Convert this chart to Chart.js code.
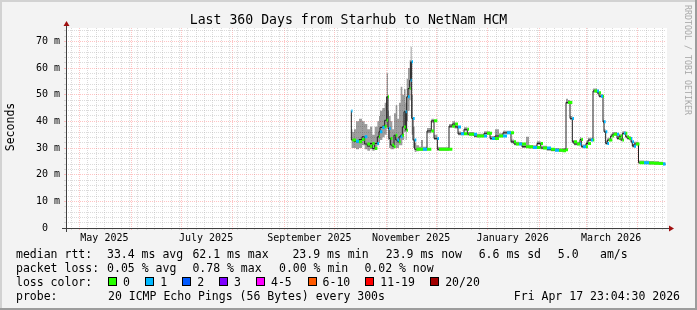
<!DOCTYPE html>
<html>
<head>
<meta charset="utf-8">
<title>Last 360 Days from Starhub to NetNam HCM</title>
<script src="https://cdn.jsdelivr.net/npm/chart.js@4.4.1/dist/chart.umd.min.js"></script>
<style>
    body { margin: 0; background: #f3f3f3; }
    #graph { position: relative; width: 697px; height: 310px; overflow: hidden; font-family: 'DejaVu Sans Mono', monospace; color: #000; }
    #graph canvas { position: absolute; left: 0; top: 0; }
    .lbl { position: absolute; font-size: 11.5px; line-height: 14px; white-space: pre; }
    #title { position: absolute; left: 0; width: 697px; top: 11.5px; text-align: center; font-size: 13.2px; line-height: 16px; white-space: pre; }
    #ytitle { position: absolute; left: -40px; top: 119.5px; width: 100px; text-align: center; font-size: 11.5px; line-height: 14px; transform: rotate(-90deg); }
    #stamp { position: absolute; left: 623px; top: 55px; width: 130px; line-height: 10px; text-align: center; font-size: 8.3px; color: #a8a8a8; transform: rotate(90deg); white-space: pre; }
    .sw { position: absolute; width: 9px; height: 9px; box-sizing: border-box; border: 1px solid #000; top: 277px; }
</style>
</head>
<body>
<div id="graph">
    <canvas id="mainChart" width="697" height="310"></canvas>
    <div id="title">Last 360 Days from Starhub to NetNam HCM</div>
    <div id="ytitle">Seconds</div>
    <div id="stamp">RRDTOOL / TOBI OETIKER</div>

    <div class="lbl" style="left:16px;top:247px">median rtt:</div>
    <div class="lbl" style="left:107px;top:247px">33.4 ms avg</div>
    <div class="lbl" style="left:192.4px;top:247px">62.1 ms max</div>
    <div class="lbl" style="left:292.4px;top:247px">23.9 ms min</div>
    <div class="lbl" style="left:385.8px;top:247px">23.9 ms now</div>
    <div class="lbl" style="left:478.7px;top:247px">6.6 ms sd</div>
    <div class="lbl" style="left:557.8px;top:247px">5.0</div>
    <div class="lbl" style="left:600px;top:247px">am/s</div>

    <div class="lbl" style="left:16px;top:260.5px">packet loss:</div>
    <div class="lbl" style="left:107.1px;top:260.5px">0.05 % avg</div>
    <div class="lbl" style="left:192.4px;top:260.5px">0.78 % max</div>
    <div class="lbl" style="left:279px;top:260.5px">0.00 % min</div>
    <div class="lbl" style="left:364.4px;top:260.5px">0.02 % now</div>

    <div class="lbl" style="left:16px;top:274.5px">loss color:</div>
    <div id="lossLegend"></div>

    <div class="lbl" style="left:16px;top:288.5px">probe:</div>
    <div class="lbl" style="left:108px;top:288.5px">20 ICMP Echo Pings (56 Bytes) every 300s</div>
    <div class="lbl" style="right:17px;top:288.5px">Fri Apr 17 23:04:30 2026</div>
</div>
<script>
// ventana de 360 dias que termina el Fri Apr 17 23:04:30 2026
const WINDOW_START = Date.UTC(2025, 3, 22, 23, 4, 30);
const WINDOW_DAYS = 360;
const dayOf = (y, m, d) => (Date.UTC(y, m, d) - WINDOW_START) / 864e5;

// muestras: dias desde el inicio de la ventana
const days = [
    171.2, 171.9, 172.8, 174.0, 175.8, 177.6, 179.2, 180.8, 182.4, 183.8,
    185.2, 186.8, 187.8, 188.4, 189.8, 191.2, 192.4, 193.2, 193.8, 194.8,
    195.8, 196.8, 197.8, 198.8, 199.8, 200.8, 201.8, 202.8, 203.8, 204.4,
    205.2, 206.2, 206.8, 207.4, 208.2, 209.2, 210.2, 211.8,
    213.0, 214.2, 216.6, 219.2, 220.8, 222.8, 223.8, 226.8, 229.8, 231.8,
    233.4, 235.2, 237.0, 238.8, 240.8, 241.8, 244.8, 246.6, 249.0, 250.8,
    252.6, 254.4, 255.6, 257.4, 259.8, 262.2, 264.6, 267.0, 268.8, 270.0,
    271.8, 273.6, 276.0, 277.8, 280.2, 282.6, 284.8, 286.2, 288.6, 291.0,
    293.4, 295.8, 298.2, 300.0, 301.2, 302.4, 303.8, 304.8, 306.6, 308.4,
    309.2, 310.2, 312.0, 313.2, 315.0, 316.2, 317.0, 318.6, 319.8, 321.0,
    322.2, 322.8, 323.8, 324.8, 325.8, 326.8, 327.8, 328.8, 330.6, 331.8,
    332.8, 333.8, 334.8, 335.8, 336.8, 337.8, 339.0, 339.8, 340.8, 342.0,
    343.5, 344.1, 346.8, 349.8, 352.8, 355.8, 358.2, 359.7
];
// median rtt (ms)
const medianRtt = [
    43.9, 33, 33, 32.5, 32.3, 33.2, 34.2, 31.5, 30.7, 31.7,
    29.8, 31.7, 34.2, 36.1, 37.7, 38.2, 40.4, 49.2, 37.3, 33.6,
    31.1, 30.5, 34.8, 33, 32.3, 34.2, 34.8, 37.9, 43.6, 36.7,
    49.2, 52.3, 55.4, 62.3, 41.1, 33, 29.5, 29.5,
    29.5, 29.5, 29.5, 36.4, 40.2, 33.6, 29.5, 29.5, 29.5, 38.2,
    39, 37.9, 35.3, 35.3, 37, 35.2, 35.2, 34.5, 34.5, 34.5,
    35.5, 35.5, 33.6, 33.6, 34.5, 34.5, 35.7, 35.7, 32.3, 31.5,
    31.5, 31.5, 30.5, 30.5, 30.2, 30.2, 31.7, 30, 30, 29.5,
    29.2, 29.2, 29, 29.3, 47.1, 47.1, 41.1, 32.3, 31.5, 31.5,
    33.2, 30.5, 30.5, 31.7, 33, 33, 51.4, 51.4, 50.7, 49.4,
    49.4, 39.8, 36.1, 31.7, 33, 33, 34.5, 35.2, 35.2, 33.6,
    34.5, 33, 35.5, 35.5, 34.2, 33.6, 33.6, 32.3, 30.7, 31.5,
    31.5, 24.5, 24.5, 24.4, 24.3, 24.2, 24, 23.9
];
// humo: ping mas alto / mas bajo (ms)
const smokeHigh = [
    50, 37, 36, 37, 40, 41, 40, 39, 37, 38,
    35, 38, 40, 42, 44, 45, 47, 58, 44, 42,
    40, 37, 43, 46, 41, 47, 53, 50, 52, 47,
    56, 60, 63, 68, 50, 38, 32, 31,
    30.5, 33, 30.5, 37.5, 41, 35, 30.5, 30.3, 30.3, 39,
    40, 38.8, 36.2, 36, 37.8, 36, 36, 35.3, 35.3, 35.3,
    36.3, 36.3, 34.5, 34.5, 37, 35.5, 36.5, 36.5, 33.2, 32.3,
    32.3, 32.2, 31.2, 34.2, 31, 31, 32.5, 30.8, 30.8, 30.3,
    30, 30, 29.8, 30, 48.5, 48, 42, 33, 32.3, 32.3,
    34, 31.3, 31.3, 32.5, 33.8, 33.8, 52.3, 52.3, 51.5, 50.2,
    50.2, 40.6, 37, 32.6, 33.8, 33.8, 35.3, 36, 36, 34.4,
    35.3, 33.8, 36.3, 36.3, 35, 34.4, 34.4, 33.1, 31.5, 32.3,
    32.3, 25.3, 25.3, 25.2, 25.1, 25, 24.8, 24.7
];
const smokeLow = [
    33, 30, 30, 30, 29.5, 30, 31, 29.5, 29, 29.5,
    29, 29.5, 31, 32, 33, 34, 35, 38, 33, 30,
    29.5, 29.5, 31, 30, 30, 31, 31, 33, 36, 33,
    40, 44, 48, 52, 35, 30, 28.5, 28.8,
    29, 29, 29, 35.5, 39.5, 33, 29, 29, 29, 37.5,
    38.5, 37.3, 34.8, 34.8, 36.3, 34.7, 34.7, 34, 34, 34,
    35, 35, 33, 33, 34, 34, 35.2, 35.2, 31.8, 31,
    31, 31, 30, 30, 29.8, 29.8, 31.2, 29.5, 29.5, 29,
    28.8, 28.8, 28.6, 28.8, 46.5, 46.5, 40.5, 31.8, 31, 31,
    32.8, 30, 30, 31.2, 32.5, 32.5, 50.8, 50.8, 50.2, 48.9,
    48.9, 39.3, 35.6, 31.2, 32.5, 32.5, 34, 34.7, 34.7, 33.1,
    34, 32.5, 35, 35, 33.7, 33.1, 33.1, 31.8, 30.2, 31,
    31, 24, 24, 23.9, 23.8, 23.7, 23.6, 23.5
];
// nivel de perdida (indice en lossColors)
const lossLevel = [
    1, 0, 0, 1, 0, 0, 1, 0, 0, 0,
    0, 1, 0, 1, 1, 0, 0, 0, 1, 0,
    0, 0, 0, 1, 0, 1, 0, 0, 1, 0,
    1, 0, 1, 1, 1, 1, 0, 0,
    0, 1, 0, 0, 0, 1, 0, 0, 0, 0,
    0, 1, 1, 0, 0, 0, 1, 0, 0, 1,
    0, 0, 1, 0, 0, 1, 1, 0, 0, 0,
    1, 0, 0, 0, 1, 0, 0, 0, 1, 0,
    1, 0, 0, 0, 0, 0, 1, 0, 0, 1,
    0, 1, 0, 0, 1, 0, 0, 1, 0, 1,
    0, 1, 1, 1, 0, 0, 0, 0, 1, 0,
    0, 0, 1, 0, 0, 0, 1, 1, 1, 0,
    0, 0, 1, 0, 0, 0, 1, 1
];

const lossLabels = ['0', '1', '2', '3', '4-5', '6-10', '11-19', '20/20'];
const lossColors = ['#26ff00', '#00b8ff', '#0059ff', '#7e00ff', '#ff00ff', '#ff5a00', '#ff0000', '#a10000'];
const lossLegendX = [108, 145.3, 182.2, 219, 256, 307.6, 365.3, 430.2];

const yTickValues = [0, 10, 20, 30, 40, 50, 60, 70];
const yTickLabels = ['0  ', '10 m', '20 m', '30 m', '40 m', '50 m', '60 m', '70 m'];
const xLabelMonths = [[2025, 4], [2025, 6], [2025, 8], [2025, 10], [2026, 0], [2026, 2]];
const xLabelText = ['May 2025', 'July 2025', 'September 2025', 'November 2025', 'January 2026', 'March 2026'];

const GRID_MINOR = 'rgba(175,175,175,0.45)';
const GRID_MAJOR = 'rgba(255,70,70,0.32)';
const NONE = 'rgba(0,0,0,0)';

// leyenda de colores de perdida
document.getElementById('lossLegend').innerHTML = lossLabels.map((l, i) =>
    `<div class="sw" style="left:${lossLegendX[i]}px;background:${lossColors[i]}"></div>` +
    `<div class="lbl" style="left:${lossLegendX[i] + 15}px;top:274.5px">${l}</div>`).join('');

// --- ticks del eje X: rejilla menor cada 5 dias, mayor cada mes, etiqueta a mitad de mes ---
const monthStarts = [];
for (let i = 0; i < 12; i++) {
    monthStarts.push(dayOf(2025 + Math.floor((4 + i) / 12), (4 + i) % 12, 1));
}
const xTicks = [];
for (let d = monthStarts[0] - 5 * Math.floor(monthStarts[0] / 5); d <= WINDOW_DAYS; d += 5) {
    if (!monthStarts.some(m => Math.abs(m - d) < 0.01)) xTicks.push({ value: d, kind: 'minor' });
}
monthStarts.forEach(d => xTicks.push({ value: d, kind: 'major' }));
xLabelMonths.forEach(([y, m], i) => xTicks.push({ value: dayOf(y, m, 1) + 15, kind: 'label', text: xLabelText[i] }));
xTicks.sort((a, b) => a.value - b.value);

const yTicks = [];
for (let v = 0; v < 75; v += 2) yTicks.push({ value: v, kind: v % 10 === 0 ? 'major' : 'minor' });

const gridColor = c => !c.tick ? NONE : c.tick.kind === 'major' ? GRID_MAJOR : c.tick.kind === 'minor' ? GRID_MINOR : NONE;

// --- datasets ---
const pts = ys => days.map((d, i) => ({ x: d, y: ys[i] }));
const bandData = lvl => {
    const out = [];
    for (let i = 0; i < days.length - 1; i++) {
        if (lossLevel[i] !== lvl) continue;
        out.push({ x: days[i], y: medianRtt[i] }, { x: days[i + 1], y: medianRtt[i] }, { x: days[i + 1], y: null });
    }
    return out;
};

const rrdFrame = {
    id: 'rrdFrame',
    beforeDraw(chart) {
        const { ctx, width, height, chartArea: a } = chart;
        ctx.save();
        ctx.fillStyle = '#f3f3f3';
        ctx.fillRect(0, 0, width, height);
        ctx.fillStyle = '#d2d2d2';
        ctx.fillRect(0, 0, width, 2);
        ctx.fillRect(0, 0, 2, height);
        ctx.fillStyle = '#9c9c9c';
        ctx.fillRect(0, height - 2, width, 2);
        ctx.fillRect(width - 2, 0, 2, height);
        ctx.fillStyle = '#ffffff';
        ctx.fillRect(a.left, a.top, a.right - a.left + 1, a.bottom - a.top);
        ctx.restore();
    },
    afterDraw(chart) {
        const { ctx, chartArea: a } = chart;
        const x0 = a.left + 0.5, y0 = a.bottom + 0.5;
        ctx.save();
        ctx.strokeStyle = '#404040';
        ctx.lineWidth = 1;
        ctx.beginPath();
        ctx.moveTo(a.left - 4, y0); ctx.lineTo(a.right + 4, y0);
        ctx.moveTo(x0, a.bottom + 4); ctx.lineTo(x0, a.top - 4);
        ctx.stroke();
        ctx.fillStyle = '#a01010';
        ctx.beginPath();
        ctx.moveTo(x0 - 3, a.top - 2); ctx.lineTo(x0 + 3, a.top - 2); ctx.lineTo(x0, a.top - 7);
        ctx.fill();
        ctx.beginPath();
        ctx.moveTo(a.right + 3, y0 - 3); ctx.lineTo(a.right + 3, y0 + 3); ctx.lineTo(a.right + 8, y0);
        ctx.fill();
        ctx.restore();
    }
};

const tickFont = { family: "'DejaVu Sans Mono', monospace", size: 10 };

new Chart(document.getElementById('mainChart'), {
    type: 'line',
    data: {
        datasets: [
            { label: 'smoke low', data: pts(smokeLow), stepped: 'after', borderColor: NONE, borderWidth: 1, fill: false, order: 4 },
            { label: 'smoke', data: pts(smokeHigh), stepped: 'after', borderColor: NONE, borderWidth: 1, fill: '-1', backgroundColor: 'rgba(0,0,0,0.38)', order: 3 },
            { label: 'median rtt', data: pts(medianRtt), stepped: 'after', borderColor: '#202020', borderWidth: 1, fill: false, order: 2 },
            { label: 'loss 0', data: bandData(0), borderColor: lossColors[0], borderWidth: 3, fill: false, order: 1 },
            { label: 'loss 1', data: bandData(1), borderColor: lossColors[1], borderWidth: 3, fill: false, order: 1 }
        ]
    },
    options: {
        responsive: false,
        animation: false,
        devicePixelRatio: 1,
        events: [],
        layout: { padding: { top: 28, right: 31, left: 0, bottom: 0 } },
        elements: { point: { radius: 0 }, line: { tension: 0 } },
        plugins: { legend: { display: false }, tooltip: { enabled: false } },
        scales: {
            x: {
                type: 'linear', min: 0, max: WINDOW_DAYS,
                afterBuildTicks: s => { s.ticks = xTicks.map(t => ({ ...t })); },
                afterFit: s => { s.height = 82; },
                grid: { color: gridColor, tickColor: gridColor, tickLength: 2 },
                border: { display: false, dash: [1, 1] },
                ticks: {
                    autoSkip: false, maxRotation: 0, minRotation: 0, padding: 2,
                    font: tickFont, color: '#000',
                    callback: (v, i, ticks) => ticks[i].text || ''
                }
            },
            y: {
                min: 0, max: 75,
                afterBuildTicks: s => { s.ticks = yTicks.map(t => ({ ...t })); },
                afterFit: s => { s.width = 66; },
                grid: { color: gridColor, tickColor: gridColor, tickLength: 2 },
                border: { display: false, dash: [1, 1] },
                ticks: {
                    autoSkip: false, padding: 4, font: tickFont, color: '#000',
                    callback: v => { const k = yTickValues.indexOf(v); return k >= 0 ? yTickLabels[k] : ''; }
                }
            }
        }
    },
    plugins: [rrdFrame]
});
</script>
</body>
</html>
